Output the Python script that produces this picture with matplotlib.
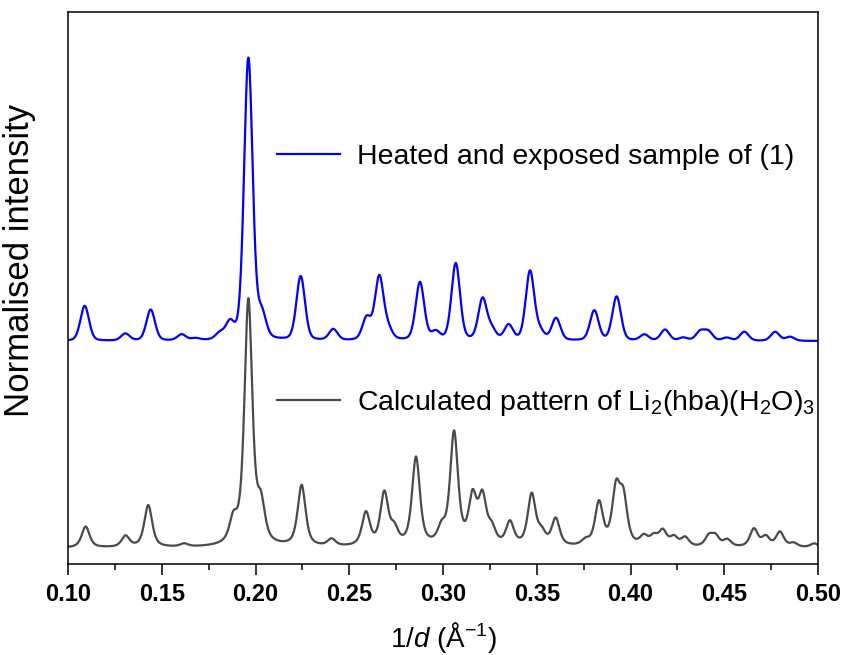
import numpy as np
import matplotlib
matplotlib.use("Agg")
import matplotlib.pyplot as plt
from matplotlib.ticker import MultipleLocator

plt.rcParams["font.family"] = ["Liberation Sans", "DejaVu Sans"]
plt.rcParams["mathtext.fontset"] = "custom"
plt.rcParams["mathtext.rm"] = "Liberation Sans"
plt.rcParams["mathtext.it"] = "Liberation Sans:italic"

# ---- peak lists (1/d in 1/A, height in normalised units) ----
heated_pos = [0.1089, 0.1306, 0.1441, 0.1606, 0.1680, 0.1810, 0.1864, 0.1962, 0.2033,
              0.2241, 0.2415, 0.2593, 0.2660, 0.2707, 0.2877, 0.2961, 0.3068, 0.3211,
              0.3260, 0.3350, 0.3464, 0.3517, 0.3603, 0.3807, 0.3926, 0.4074, 0.4184,
              0.4282, 0.4371, 0.4415, 0.4513, 0.4607, 0.4771, 0.4851]
heated_amp = [0.35, 0.07, 0.31, 0.06, 0.02, 0.06, 0.16, 2.82, 0.24,
              0.64, 0.11, 0.22, 0.63, 0.10, 0.58, 0.08, 0.77, 0.41,
              0.10, 0.15, 0.69, 0.08, 0.22, 0.30, 0.44, 0.06, 0.11,
              0.03, 0.09, 0.09, 0.03, 0.09, 0.09, 0.04]

calc_pos = [0.1094, 0.1307, 0.1428, 0.1619, 0.1882, 0.1962, 0.2029, 0.2246, 0.2406,
            0.2589, 0.2687, 0.2740, 0.2856, 0.2993, 0.3059, 0.3158, 0.3210, 0.3260,
            0.3357, 0.3473, 0.3526, 0.3601, 0.3760, 0.3832, 0.3923, 0.3962, 0.4071,
            0.4124, 0.4172, 0.4231, 0.4291, 0.4418, 0.4453, 0.4516, 0.4658, 0.4721,
            0.4797, 0.4870, 0.4980]
calc_amp = [0.21, 0.11, 0.42, 0.03, 0.22, 2.45, 0.36, 0.61, 0.07,
            0.33, 0.52, 0.15, 0.88, 0.15, 1.12, 0.46, 0.46, 0.15,
            0.23, 0.51, 0.12, 0.27, 0.05, 0.43, 0.54, 0.45, 0.09,
            0.09, 0.15, 0.09, 0.09, 0.10, 0.10, 0.07, 0.18, 0.10,
            0.15, 0.04, 0.04]

heated_offset = 2.23
calc_offset = 0.16

labels = ["Heated and exposed sample of (1)",
          "Calculated pattern of Li$_2$(hba)(H$_2$O)$_3$"]


def pattern(x, pos, amp, fwhm, eta):
    # pseudo-Voigt sum over the peak list
    y = np.zeros_like(x)
    s = fwhm / (2 * np.sqrt(2 * np.log(2)))
    g = fwhm / 2
    for p, a in zip(pos, amp):
        gauss = np.exp(-0.5 * ((x - p) / s) ** 2)
        lor = g ** 2 / ((x - p) ** 2 + g ** 2)
        y += a * (eta * lor + (1 - eta) * gauss)
    return y


x = np.linspace(0.10, 0.50, 3000)
y_heated = heated_offset + pattern(x, heated_pos, heated_amp, 0.0054, 0.25)
y_calc = calc_offset + pattern(x, calc_pos, calc_amp, 0.0050, 0.65)

fig = plt.figure(figsize=(8.44, 6.55), dpi=100)
ax = fig.add_axes([68 / 844, 1 - 564 / 655, 750 / 844, 552 / 655])

l1, = ax.plot(x, y_heated, color="#0000ff", lw=1.6)
l2, = ax.plot(x, y_calc, color="#4a4a4a", lw=1.6)

ax.set_ylim(0, 5.52)
ax.set_yticks([])
ax.xaxis.set_major_locator(MultipleLocator(0.05))
ax.xaxis.set_minor_locator(MultipleLocator(0.025))
ax.tick_params(axis="x", which="major", direction="out", length=8, width=1.1, pad=6)
ax.tick_params(axis="x", which="minor", direction="out", length=4, width=1.1)
ticks = np.arange(0.10, 0.501, 0.05)
ax.set_xticks(ticks)
ax.set_xticklabels([f"{t:.2f}" for t in ticks], fontweight="bold", fontsize=17,
                   fontfamily=["Liberation Sans Narrow", "Liberation Sans"])
ax.set_xlim(0.10, 0.50)
for s in ax.spines.values():
    s.set_linewidth(1.1)

ax.set_xlabel("1/$d$ (Å$^{-1}$)", fontsize=20, labelpad=10)
ax.set_ylabel("Normalised intensity", fontsize=25)
ax.yaxis.set_label_coords(-0.042, 0.55)

leg1 = ax.legend([l1], [labels[0]], loc="center left", bbox_to_anchor=(0.279, 0.737),
                 frameon=False, fontsize=20.5, borderpad=0, borderaxespad=0,
                 handlelength=2.2, handletextpad=0.6)
ax.add_artist(leg1)
ax.legend([l2], [labels[1]], loc="center left", bbox_to_anchor=(0.279, 0.292),
          frameon=False, fontsize=20.5, borderpad=0, borderaxespad=0,
          handlelength=2.2, handletextpad=0.6)

fig.savefig("out.png", dpi=100)
